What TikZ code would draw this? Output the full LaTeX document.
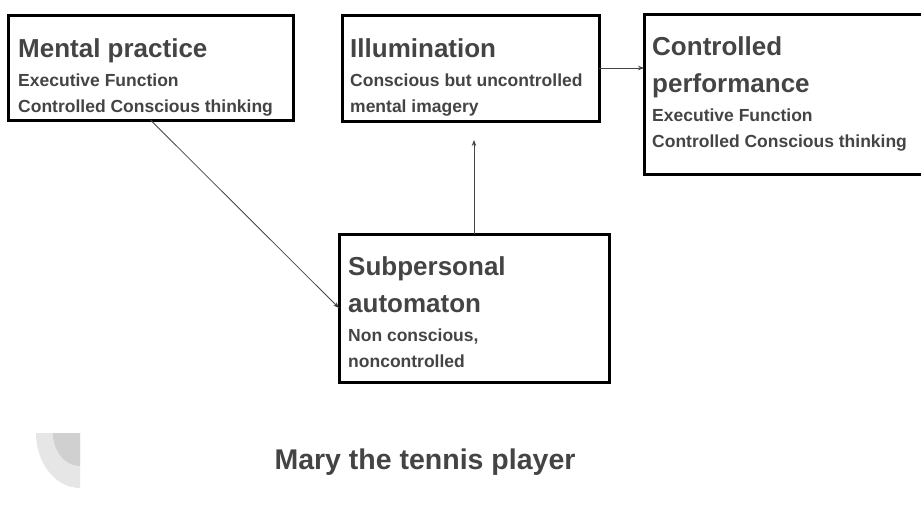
\documentclass[tikz,border=0pt]{standalone}
\usepackage{fontspec}
\setmainfont{Liberation Sans}
\usetikzlibrary{positioning,arrows.meta}
\definecolor{textgrey}{HTML}{444444}
\definecolor{logolight}{HTML}{E6E6E6}
\definecolor{logodark}{HTML}{D0D0D0}
\newcommand{\headfont}{\fontsize{26}{37}\selectfont\bfseries}
\newcommand{\subfont}{\fontsize{17.5}{25.5}\selectfont\bfseries}
\newcommand{\boxtext}[2]{\spaceskip=0pt\xspaceskip=0pt
  {\headfont #1\par}\vspace{4pt}{\subfont #2\par}}

\begin{document}
\begin{tikzpicture}[x=1pt,y=-1pt,
  box/.style={draw=black,line width=3pt,inner sep=0pt,outer sep=0pt,anchor=north west},
  words/.style={anchor=base west,inner sep=0pt,text width=300pt,align=left,text=textgrey},
  arr/.style={draw=textgrey,line width=0.8pt,-{Stealth[length=6pt,width=4.5pt]}}]
  \useasboundingbox (0,0) rectangle (921,523);

  % logo
  \fill[logolight] (80,433) -- (36,433) arc[start angle=180,end angle=270,x radius=44pt,y radius=55pt] -- cycle;
  \fill[logodark] (80,433) -- (53,433) arc[start angle=180,end angle=270,x radius=27pt,y radius=33pt] -- cycle;

  % boxes
  \node[box,minimum width=285pt,minimum height=105pt] (mental) at (8,15) {};
  \node[box,minimum width=257pt,minimum height=106pt] (illum) at (342,15) {};
  \node[box,minimum width=282pt,minimum height=160pt] (control) at (644,14) {};
  \node[box,minimum width=270pt,minimum height=148pt] (subp) at (339,234) {};

  % texts
  \node[words] (mentaltext) at (18,57)
       {\boxtext{Mental practice}{Executive Function\\Controlled Conscious thinking}};
  \node[words] (illumtext) at (350,57)
       {\boxtext{Illumination}{Conscious but uncontrolled\\mental imagery}};
  \node[words] (controltext) at (652,55)
       {\boxtext{Controlled\\performance}{Executive Function\\Controlled Conscious thinking}};
  \node[words] (subptext) at (348,275)
       {\boxtext{Subpersonal\\automaton}{Non conscious,\\noncontrolled}};
  \node[anchor=base,inner sep=0pt,text=textgrey,font=\fontsize{28.5}{35}\selectfont\bfseries]
       (title) at (425,469) {Mary the tennis player};

  % arrows
  \coordinate (gap) at ([yshift=-19pt]illum.south);
  \draw[arr] (mental.south) -- (subp.west);
  \draw[arr] (subp.north) -- (subp.north |- gap);
  \draw[arr] (illum.east) -- (illum.east -| control.west);
\end{tikzpicture}
\end{document}
